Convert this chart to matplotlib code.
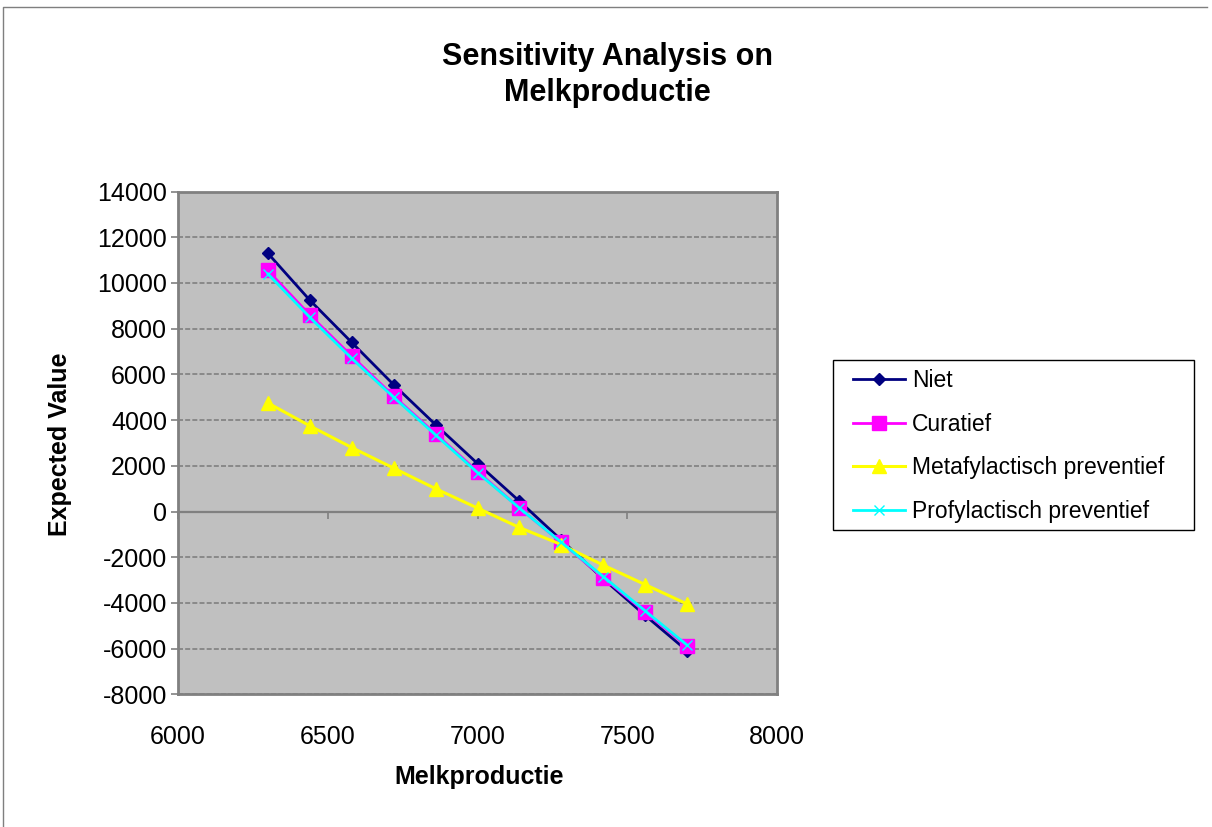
import matplotlib
matplotlib.use("Agg")
import matplotlib.pyplot as plt
from matplotlib.lines import Line2D
from matplotlib.patches import Rectangle

plt.rcParams['font.family'] = ['Liberation Sans', 'DejaVu Sans']
plt.rcParams['axes.unicode_minus'] = False

# Sensitivity data: expected value per strategy over milk production
melkproductie = [6300, 6440, 6580, 6720, 6860, 7000, 7140, 7280, 7420, 7560, 7700]
niet = [11300, 9250, 7400, 5550, 3800, 2100, 450, -1250, -2950, -4550, -6100]
curatief = [10550, 8600, 6800, 5050, 3400, 1750, 150, -1350, -2900, -4400, -5900]
metafylactisch = [4750, 3750, 2800, 1900, 1000, 150, -700, -1450, -2350, -3200, -4050]
profylactisch = [10400, 8500, 6700, 5000, 3350, 1700, 150, -1350, -2850, -4350, -5850]

series_names = ["Niet", "Curatief", "Metafylactisch preventief", "Profylactisch preventief"]
x_ticks = [6000, 6500, 7000, 7500, 8000]
y_ticks = [-8000, -6000, -4000, -2000, 0, 2000, 4000, 6000, 8000, 10000, 12000, 14000]

W, H = 1212, 827
fig = plt.figure(figsize=(W / 100, H / 100), dpi=100)
fig.patch.set_facecolor("white")

# plot area in pixel coordinates
left, right, top, bottom = 178, 777, 191.6, 694.3
ax = fig.add_axes([left / W, 1 - bottom / H, (right - left) / W, (bottom - top) / H])
ax.set_facecolor("#C0C0C0")

grey = "#808080"
ax.plot(melkproductie, niet, color="#000080", lw=2, marker="D", ms=6.5,
        mfc="#000080", mec="#000080", label=series_names[0], zorder=3)
ax.plot(melkproductie, curatief, color="#FF00FF", lw=2, marker="s", ms=9.5,
        mfc="#FF00FF", mec="#FF00FF", label=series_names[1], zorder=4)
ax.plot(melkproductie, metafylactisch, color="#FFFF00", lw=2.2, marker="^", ms=9.5,
        mfc="#FFFF00", mec="#FFFF00", label=series_names[2], zorder=5)
ax.plot(melkproductie, profylactisch, color="#00FFFF", lw=2, marker="x", ms=7,
        mew=1, mec="#00FFFF", label=series_names[3], zorder=6)

ax.set_xlim(x_ticks[0], x_ticks[-1])
ax.set_ylim(y_ticks[0], y_ticks[-1])

ax.set_yticks(y_ticks)
ax.set_yticklabels([str(v) for v in y_ticks])
ax.tick_params(axis="y", direction="out", length=5, width=1.2, color=grey,
               labelsize=18, pad=3, labelcolor="black")

# category axis crosses at zero; labels stay at the bottom of the plot area
ax.spines["bottom"].set_position(("data", 0))
ax.spines["bottom"].set_color(grey)
ax.spines["bottom"].set_linewidth(1.6)
ax.set_xticks(x_ticks)
ax.tick_params(axis="x", direction="out", length=5, width=1.2, color=grey,
               labelbottom=False)

sec = ax.secondary_xaxis("bottom")
sec.set_xticks(x_ticks)
sec.set_xticklabels([str(v) for v in x_ticks])
sec.tick_params(axis="x", length=0, labelsize=18, pad=22)
sec.spines["bottom"].set_color(grey)
sec.spines["bottom"].set_linewidth(2)

for s in ["left", "top", "right"]:
    ax.spines[s].set_color(grey)
    ax.spines[s].set_linewidth(2)

ax.grid(axis="y", color=grey, lw=1.2, linestyle=(0, (3, 1.3)))
ax.set_axisbelow(True)

fig.text(607 / W, 1 - 75 / H, "Sensitivity Analysis on\nMelkproductie",
         ha="center", va="center", fontsize=22, fontweight="bold", linespacing=1.22)
fig.text(60 / W, 1 - 444 / H, "Expected Value", rotation=90, ha="center",
         va="center", fontsize=18, fontweight="bold")
fig.text(479 / W, 1 - 777 / H, "Melkproductie", ha="center", va="center",
         fontsize=18, fontweight="bold")

# legend box drawn separately so its padding can differ per side
fig.add_artist(Rectangle((833 / W, 1 - 530 / H), (1194 - 833) / W, (530 - 360) / H,
                         transform=fig.transFigure, facecolor="white",
                         edgecolor="black", lw=1, zorder=1))
leg = fig.legend(loc="upper left", bbox_to_anchor=(853 / W, 1 - 369 / H),
                 fontsize=16.5, frameon=False,
                 handlelength=2.27, handletextpad=0.3, labelspacing=0.9,
                 borderpad=0, borderaxespad=0)
leg.set_zorder(2)

# outer chart border (left and top edges)
fig.add_artist(Line2D([3 / W, 3 / W, 1207 / W], [0, 1 - 7 / H, 1 - 7 / H],
                      transform=fig.transFigure, color="#7f7f7f", lw=1))

fig.savefig("out.png", dpi=100)
